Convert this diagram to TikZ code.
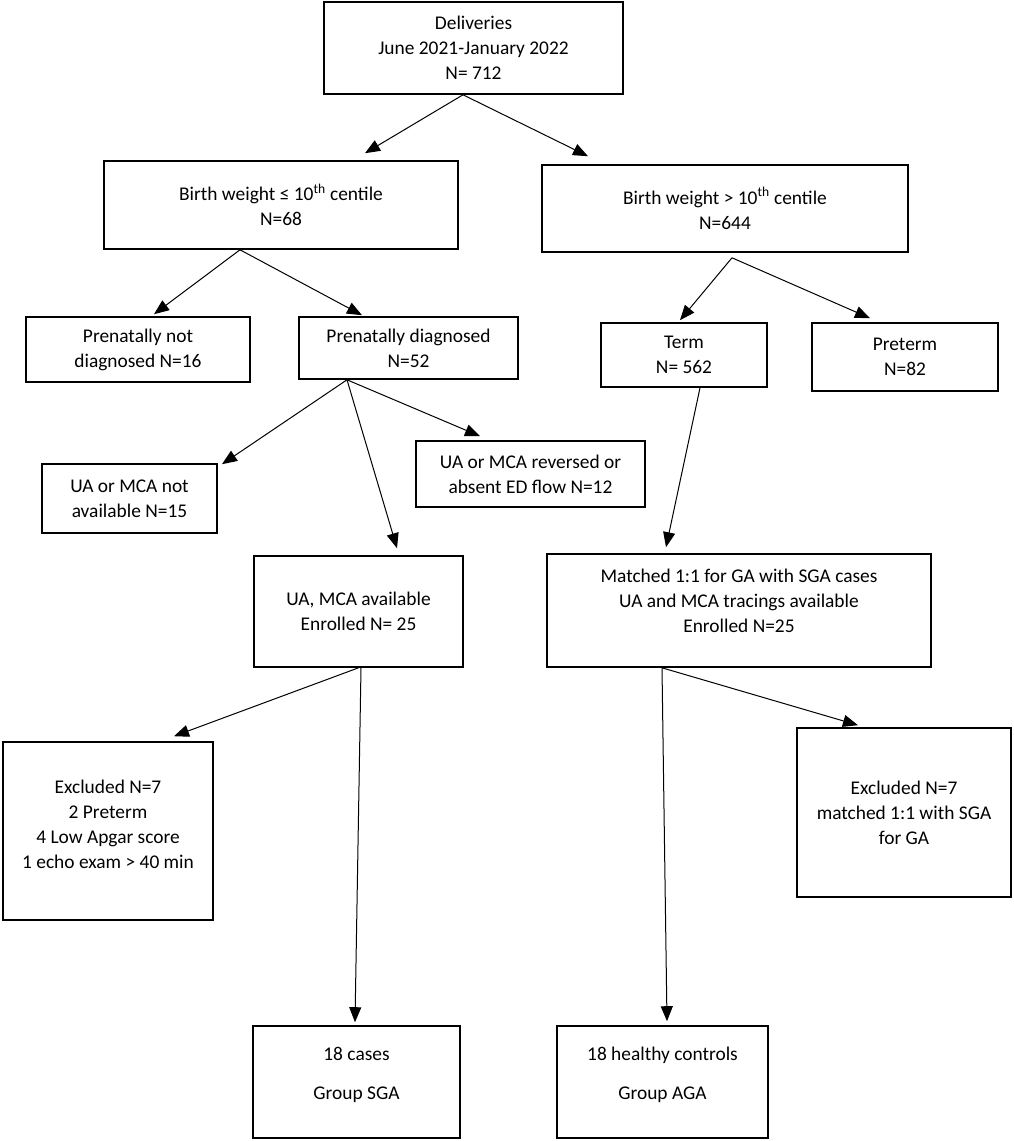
\documentclass[tikz,border=0pt]{standalone}
\usepackage{fontspec}
\setmainfont{Carlito}
\usetikzlibrary{arrows.meta}
\tikzset{box/.style={draw,line width=1.6pt,align=center,inner sep=0pt,font=\fontsize{19.4pt}{25pt}\selectfont}}
\tikzset{arr/.style={line width=1pt,-{Triangle[length=15pt,width=12pt]}}}

\begin{document}
\begin{tikzpicture}[x=1pt,y=-1pt]
      \useasboundingbox (0,0) rectangle (1013,1141);

      \node[box,minimum width=299pt,minimum height=92pt] (deliv) at (473.5,48) {Deliveries\\June 2021-January 2022\\N= 712};
      \node[box,minimum width=354pt,minimum height=88pt] (bwlow) at (281,205) {Birth weight ≤ 10\textsuperscript{th} centile\\N=68};
      \node[box,minimum width=366pt,minimum height=87pt] (bwhigh) at (725,208.5) {Birth weight > 10\textsuperscript{th} centile\\N=644};

      \node[box,minimum width=224pt,minimum height=65pt] (notdiag) at (138,349.5) {Prenatally not\\diagnosed N=16};
      \node[box,minimum width=219pt,minimum height=62pt] (diag) at (408.5,348) {Prenatally diagnosed\\N=52};
      \node[box,minimum width=166pt,minimum height=64pt] (term) at (684,355) {Term\\N= 562};
      \node[box,minimum width=186pt,minimum height=68pt] (preterm) at (905,357) {Preterm\\N=82};

      \node[box,minimum width=175pt,minimum height=69pt] (notavail) at (129.5,498.5) {UA or MCA not\\available N=15};
      \node[box,minimum width=229pt,minimum height=66pt] (reversed) at (530.5,474) {UA or MCA reversed or\\absent ED flow N=12};

      \node[box,minimum width=209pt,minimum height=111pt] (enrolled) at (358.5,611.5) {UA, MCA available\\Enrolled N= 25};
      \node[box,minimum width=384pt,minimum height=113pt] (matched) at (739,610.5) {Matched 1:1 for GA with SGA cases\\UA and MCA tracings available\\Enrolled N=25\\[-6pt]\mbox{}};

      \node[box,minimum width=210pt,minimum height=178pt] (exclsga) at (108,831) {Excluded N=7\\2 Preterm\\4 Low Apgar score\\1 echo exam > 40 min\\[-12pt]\mbox{}};
      \node[box,minimum width=214pt,minimum height=169pt] (exclaga) at (904,812.5) {Excluded N=7\\matched 1:1 with SGA\\for GA};

      \node[box,minimum width=207pt,minimum height=112pt] (sga) at (356.5,1082) {18 cases\\[14pt]Group SGA\\[-8pt]\mbox{}};
      \node[box,minimum width=211pt,minimum height=112pt] (aga) at (662.5,1082) {18 healthy controls\\[14pt]Group AGA\\[-8pt]\mbox{}};

      \draw[arr] ([xshift=-10.5pt]deliv.south) -- ([xshift=84pt,yshift=7pt]bwlow.north);
      \draw[arr] ([xshift=-10.5pt]deliv.south) -- ([xshift=-137pt,yshift=8pt]bwhigh.north);

      \draw[arr] ([xshift=-41pt]bwlow.south) -- ([xshift=16pt,yshift=2pt]notdiag.north);
      \draw[arr] ([xshift=-41pt]bwlow.south) -- ([xshift=-46.5pt,yshift=1pt]diag.north);

      \draw[arr] ([xshift=-61.5pt]diag.south) -- ([xshift=92.5pt,yshift=-1pt]notavail.north);
      \draw[arr] ([xshift=-61.5pt]diag.south) -- ([xshift=-50.5pt,yshift=4pt]reversed.north);
      \draw[arr] ([xshift=-61.5pt]diag.south) -- ([xshift=38.5pt,yshift=7pt]enrolled.north);

      \draw[arr] ([xshift=7pt,yshift=-5pt]bwhigh.south) -- ([xshift=-4pt,yshift=2pt]term.north);
      \draw[arr] ([xshift=7pt,yshift=-5pt]bwhigh.south) -- ([xshift=-35pt,yshift=4pt]preterm.north);
      \draw[arr] ([xshift=16pt]term.south) -- ([xshift=-73pt,yshift=6pt]matched.north);

      \draw[arr] (enrolled.south) -- ([xshift=66pt,yshift=5pt]exclsga.north);
      \draw[arr] ([xshift=2.5pt]enrolled.south) -- ([xshift=-1.5pt,yshift=3pt]sga.north);
      \draw[arr] ([xshift=-77pt]matched.south) -- ([xshift=-46pt,yshift=2pt]exclaga.north);
      \draw[arr] ([xshift=-77pt]matched.south) -- ([xshift=4.5pt,yshift=4pt]aga.north);

\end{tikzpicture}
\end{document}
